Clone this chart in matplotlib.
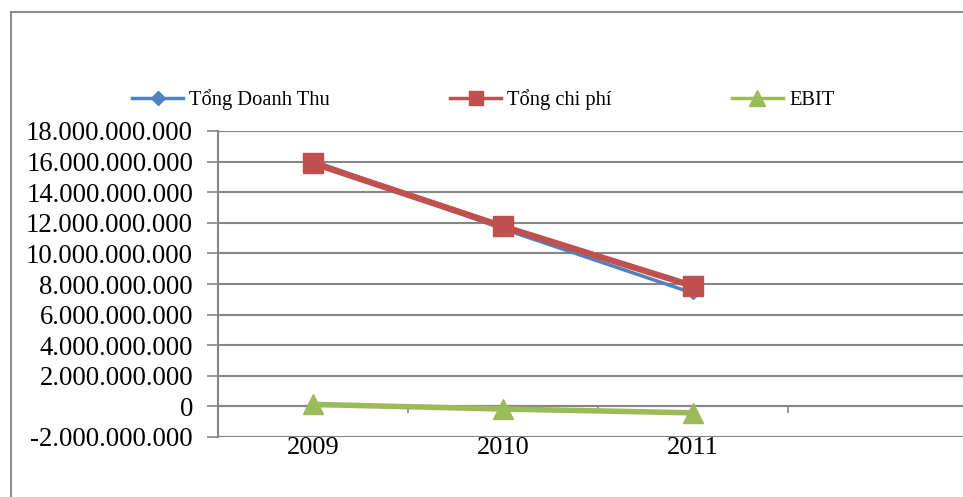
import matplotlib.pyplot as plt
import matplotlib.patches as mpatches
import numpy as np

# Daten
years = ["2009", "2010", "2011"]
doanh_thu = [16.05e9, 11.60e9, 7.40e9]
chi_phi = [15.90e9, 11.76e9, 7.87e9]
ebit = [0.13e9, -0.17e9, -0.42e9]
y_ticks = np.arange(-2e9, 18e9 + 1, 2e9)

plt.rcParams['font.family'] = ['Liberation Serif', 'DejaVu Serif']

fig = plt.figure(figsize=(9.63, 4.97), dpi=100)
W, H = 963, 497

# Rahmen um das Diagramm
fig.patches.append(mpatches.Rectangle((11 / W, -0.1), 1.2, (497 - 12) / H + 0.1,
                                      transform=fig.transFigure, fill=False,
                                      edgecolor='#8c8c8c', lw=1.5, clip_on=False))

ax = fig.add_axes([218 / W, (H - 437) / H, (978 - 218) / W, (437 - 131) / H])
x = np.arange(len(years))

ax.plot(x, doanh_thu, color='#4F81BD', lw=2.5, marker='D', ms=6, label='Tổng Doanh Thu', zorder=3)
ax.plot(x, chi_phi, color='#C0504D', lw=4.5, marker='s', ms=14, label='Tổng chi phí', zorder=4)
ax.plot(x, ebit, color='#9BBB59', lw=4, marker='^', ms=15, label='EBIT', zorder=4)

ax.set_xlim(-0.5, 3.5)
ax.set_ylim(-2e9, 18e9)
ax.set_yticks(y_ticks)
ax.set_yticklabels([f"{int(v):,}".replace(',', '.') for v in y_ticks], fontsize=19.3)
ax.tick_params(axis='y', length=8, width=1.2, color='#868686', pad=10)
for v in y_ticks:
    ax.axhline(v, color='#868686', lw=1.5, zorder=1)

for s in ['top', 'right']:
    ax.spines[s].set_visible(False)
ax.spines['left'].set_color('#868686')
ax.spines['left'].set_linewidth(1.5)
ax.spines['bottom'].set_position(('data', 0))
ax.spines['bottom'].set_color('#868686')
ax.spines['bottom'].set_linewidth(1.5)
ax.set_xticks([0.5, 1.5, 2.5])
ax.set_xticklabels([])
ax.tick_params(axis='x', length=5, width=1.2, color='#868686', direction='out')

sec = ax.secondary_xaxis('bottom')
sec.set_xticks(x)
sec.set_xticklabels(years, fontsize=19)
sec.tick_params(length=0, pad=0)
sec.spines['bottom'].set_visible(False)

leg = fig.legend(loc='upper left', bbox_to_anchor=(132 / W, 1 - 89 / H), ncol=3, frameon=False,
                 fontsize=14.75, handlelength=2.5, handletextpad=0.3, columnspacing=5.85,
                 borderaxespad=0, borderpad=0)
for h, ms in zip(leg.legend_handles, [7, 10, 11]):
    h.set_linewidth(2.5)
    h.set_markersize(ms)

fig.savefig('out.png', dpi=100)
